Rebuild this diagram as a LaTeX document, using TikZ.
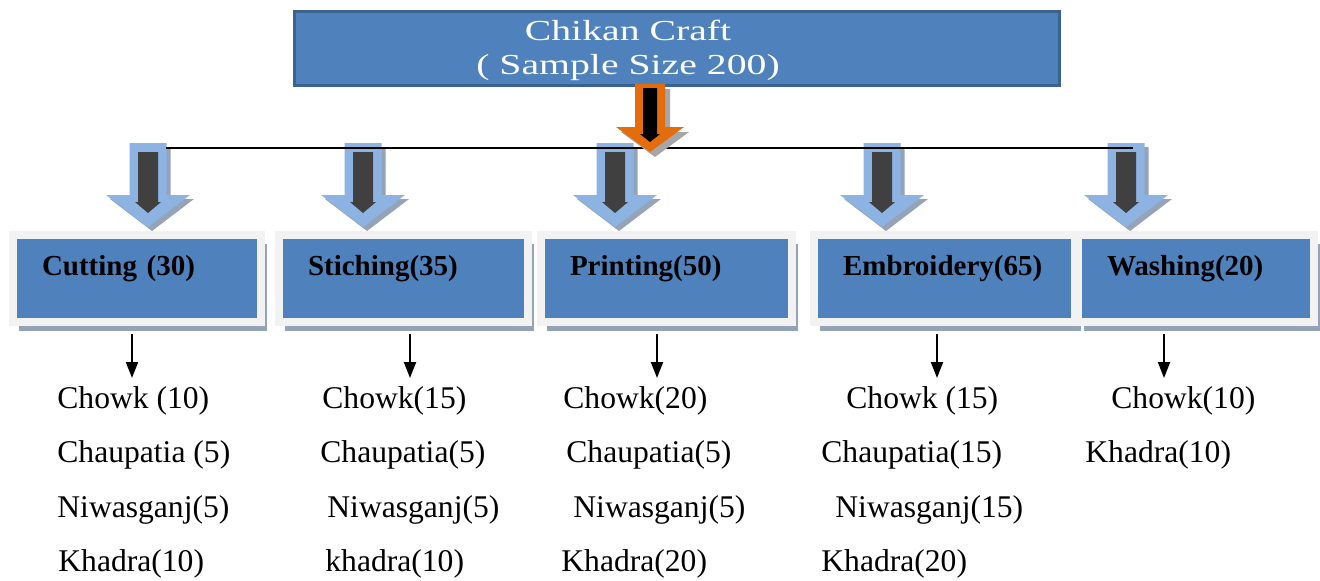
\documentclass[tikz,border=0pt]{standalone}
\usepackage{fontspec}
\setmainfont{Liberation Serif}
\newfontfamily\titlefont[FakeStretch=1.37]{Liberation Serif}
\usetikzlibrary{arrows.meta,shadows}

\definecolor{boxblue}{HTML}{4F81BD}
\definecolor{boxedge}{HTML}{3B6390}
\definecolor{framegray}{HTML}{F2F2F2}
\definecolor{lightblue}{HTML}{8DB3E2}
\definecolor{darkshaft}{HTML}{404040}
\definecolor{craftorange}{HTML}{E46C0A}
\definecolor{shadegray}{HTML}{A6A6A6}
\definecolor{shadeblue}{HTML}{95A3B8}

\begin{document}
\begin{tikzpicture}[
    x=0.5pt, y=-0.5pt,
    topbox/.style={rectangle, draw=boxedge, line width=1.5pt, fill=boxblue, minimum width=382.5pt, minimum height=37pt, inner sep=0pt},
    title/.style={align=center, text=white, font=\titlefont\fontsize{14.5}{17}\selectfont, inner sep=0pt},
    stage/.style={rectangle, draw=framegray, line width=4pt, fill=boxblue, anchor=north west, outer sep=0pt, align=left, text width=#1, inner xsep=14.5pt, inner ysep=0pt, text height=20pt, text depth=23.5pt, font=\bfseries\fontsize{14.5}{17}\selectfont, drop shadow={shadow xshift=3pt, shadow yshift=-4.5pt, fill=shadeblue, opacity=1}},
    place/.style={anchor=base west, inner sep=0pt, font=\fontsize{15.8}{19}\selectfont},
    arrow/.style={-{Triangle[width=6pt,length=8pt]}, line width=1pt},
    bluearrow/.pic={
        \fill[shadeblue] (-14.5,147) -- (22.5,147) -- (22.5,199) -- (46,199) -- (4,231) -- (-38,199) -- (-14.5,199) -- cycle;
        \fill[lightblue] (-18.5,143) -- (18.5,143) -- (18.5,195) -- (42,195) -- (0,227) -- (-42,195) -- (-18.5,195) -- cycle;
        \fill[darkshaft] (-10,152) -- (10,152) -- (10,202) -- (13,202) -- (0,213) -- (-13,202) -- (-10,202) -- cycle;
    },
    orangearrow/.pic={
        \fill[shadegray] (-10,89) -- (20,89) -- (20,132) -- (39,132) -- (5,157) -- (-29,132) -- (-10,132) -- cycle;
        \fill[craftorange] (-15,84) -- (15,84) -- (15,127) -- (34,127) -- (0,152) -- (-34,127) -- (-15,127) -- cycle;
        \fill[black] (-7,88) -- (7,88) -- (7,134) -- (10,134) -- (0,142) -- (-10,134) -- (-7,134) -- cycle;
    }
]
    \useasboundingbox (0,0) rectangle (1320,580);

    % Top
    \node[topbox] (craft) at (676.5,48) {};
    \node[title] (crafttitle) at (628,50) {Chikan Craft\\( Sample Size 200)};

    % Block arrows and rail
    \pic (cutarrow) at (148,0) {bluearrow};
    \pic (stiarrow) at (363,0) {bluearrow};
    \pic (priarrow) at (615,0) {bluearrow};
    \pic (embarrow) at (882,0) {bluearrow};
    \pic (wasarrow) at (1126,0) {bluearrow};
    \coordinate (railstart) at (166,148);
    \coordinate (railend) at (1133,148);
    \draw[line width=1pt] (railstart) -- (railend);
    \pic (craftarrow) at (650,0) {orangearrow};

    % Stages
    \node[stage=95pt] (cutting) at (13,235) {Cutting (30)};
    \node[stage=95.5pt] (stiching) at (279,235) {Stiching(35)};
    \node[stage=96.5pt] (printing) at (541,235) {Printing(50)};
    \node[stage=101.5pt] (embroidery) at (814,235) {Embroidery(65)};
    \node[stage=89pt] (washing) at (1078,235) {Washing(20)};

    % Arrows to places
    \coordinate (cuttip) at (132,378);
    \coordinate (stitip) at (410,378);
    \coordinate (pritip) at (657,378);
    \coordinate (embtip) at (937,378);
    \coordinate (wastip) at (1164,378);
    \draw[arrow] (cutting.south -| cuttip) ++(0,12) -- (cuttip);
    \draw[arrow] (stiching.south -| stitip) ++(0,12) -- (stitip);
    \draw[arrow] (printing.south -| pritip) ++(0,12) -- (pritip);
    \draw[arrow] (embroidery.south -| embtip) ++(0,12) -- (embtip);
    \draw[arrow] (washing.south -| wastip) ++(0,12) -- (wastip);

    % Places
    \node[place] (cut1) at (57,408) {Chowk (10)};
    \node[place] (cut2) at (57,462) {Chaupatia (5)};
    \node[place] (cut3) at (57,517) {Niwasganj(5)};
    \node[place] (cut4) at (58,571) {Khadra(10)};

    \node[place] (sti1) at (322,408) {Chowk(15)};
    \node[place] (sti2) at (320,462) {Chaupatia(5)};
    \node[place] (sti3) at (327,517) {Niwasganj(5)};
    \node[place] (sti4) at (325,571) {khadra(10)};

    \node[place] (pri1) at (563,408) {Chowk(20)};
    \node[place] (pri2) at (566,462) {Chaupatia(5)};
    \node[place] (pri3) at (573,517) {Niwasganj(5)};
    \node[place] (pri4) at (561,571) {Khadra(20)};

    \node[place] (emb1) at (846,408) {Chowk (15)};
    \node[place] (emb2) at (821,462) {Chaupatia(15)};
    \node[place] (emb3) at (835,517) {Niwasganj(15)};
    \node[place] (emb4) at (821,571) {Khadra(20)};

    \node[place] (was1) at (1111,408) {Chowk(10)};
    \node[place] (was2) at (1085,462) {Khadra(10)};
\end{tikzpicture}
\end{document}
